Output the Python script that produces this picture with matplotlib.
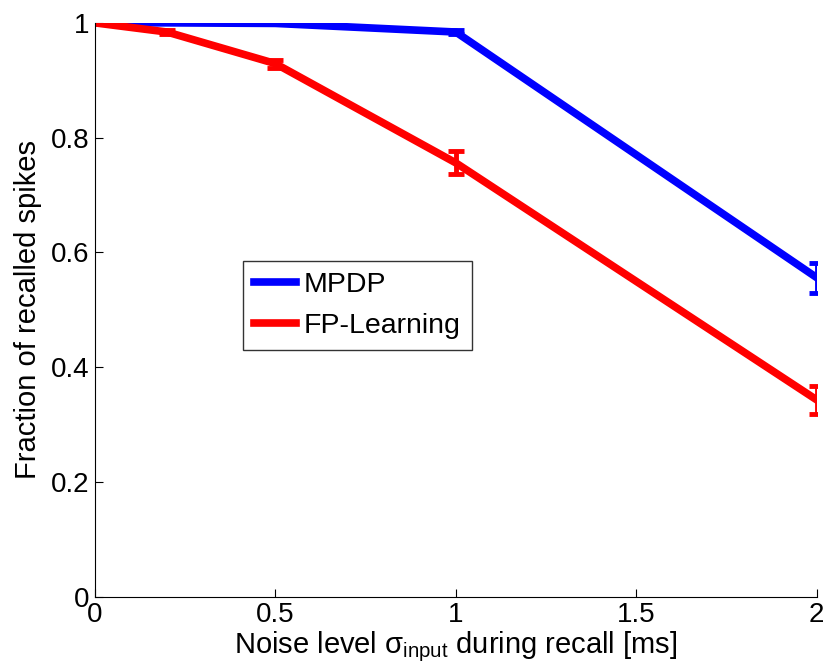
import matplotlib.pyplot as plt
from matplotlib.lines import Line2D

plt.rcParams['font.family'] = ['Liberation Sans', 'DejaVu Sans']
plt.rcParams['mathtext.fontset'] = 'custom'
plt.rcParams['mathtext.rm'] = 'Liberation Sans'
plt.rcParams['mathtext.it'] = 'Liberation Sans'

noise = [0, 0.2, 0.5, 1, 2]
mpdp = [1.0, 1.0, 0.999, 0.984, 0.556]
mpdp_err = [0.0, 0.0, 0.001, 0.003, 0.026]
fp = [1.0, 0.984, 0.929, 0.756, 0.343]
fp_err = [0.0, 0.003, 0.007, 0.02, 0.024]

fig = plt.figure(figsize=(8.25, 6.72), dpi=100)
ax = fig.add_axes([0.115, 0.112, 0.875, 0.854])

ax.errorbar(noise, mpdp, yerr=mpdp_err, color='#0000ff', lw=5.5,
            elinewidth=3.5, capsize=5.5, capthick=3.5)
ax.errorbar(noise, fp, yerr=fp_err, color='#ff0000', lw=5.5,
            elinewidth=3.5, capsize=5.5, capthick=3.5)

ax.set_xlim(0, 2)
ax.set_ylim(0, 1)
ax.set_xticks([0, 0.5, 1, 1.5, 2])
ax.set_xticklabels(['0', '0.5', '1', '1.5', '2'])
ax.set_yticks([0, 0.2, 0.4, 0.6, 0.8, 1])
ax.set_yticklabels(['0', '0.2', '0.4', '0.6', '0.8', '1'])
ax.tick_params(direction='in', length=6, labelsize=20, width=0.8)
ax.tick_params(axis='x', pad=4)
ax.tick_params(axis='y', pad=4)
ax.spines['top'].set_visible(False)
ax.spines['right'].set_visible(False)

ax.set_xlabel(r'Noise level $\sigma_{\mathrm{input}}$ during recall [ms]', fontsize=21, labelpad=1)
ax.set_ylabel('Fraction of recalled spikes', fontsize=21, labelpad=6)

handles = [Line2D([], [], color='#0000ff', lw=5.5),
           Line2D([], [], color='#ff0000', lw=5.5)]
leg = ax.legend(handles, ['MPDP', 'FP-Learning'], loc='upper left',
                bbox_to_anchor=(0.205, 0.585), fontsize=20.5,
                fancybox=False, edgecolor='black', handlelength=1.45,
                handletextpad=0.3, borderpad=0.4, labelspacing=0.5,
                borderaxespad=0)
leg.get_frame().set_linewidth(1.0)

fig.savefig('out.png', dpi=100)
